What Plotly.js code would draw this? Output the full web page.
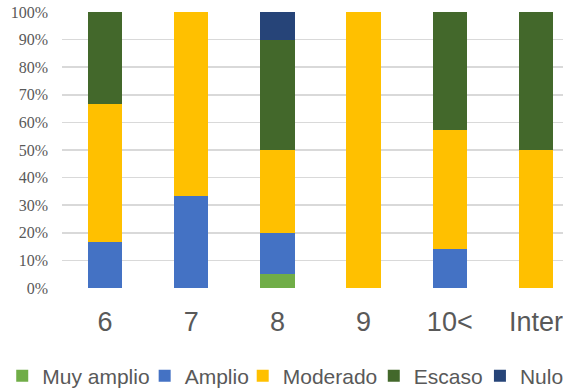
<!DOCTYPE html>
<html>
<head>
<meta charset="utf-8">
<script src="https://cdn.plot.ly/plotly-3.0.1.min.js"></script>
<style>html,body{margin:0;padding:0;background:#fff}#chart{width:563px;height:390px}</style>
</head>
<body>
<div id="chart"></div>
<script>
const categories = ["6", "7", "8", "9", "10<", "Inter"];
const muyAmplio = [0, 0, 5, 0, 0, 0];
const amplio = [16.7, 33.3, 15, 0, 14.3, 0];
const moderado = [50, 66.7, 30, 100, 42.9, 50];
const escaso = [33.3, 0, 40, 0, 42.8, 50];
const nulo = [0, 0, 10, 0, 0, 0];
const yTicks = [0, 10, 20, 30, 40, 50, 60, 70, 80, 90, 100];
const yTickLabels = yTicks.map(v => v + "%");
const seriesNames = ["Muy amplio", "Amplio", "Moderado", "Escaso", "Nulo"];

const seriesValues = [muyAmplio, amplio, moderado, escaso, nulo];
const seriesColors = ["#70AD47", "#4472C4", "#FFC000", "#43682B", "#264478"];
const legendX = [-0.1193, 0.165, 0.3607, 0.6223, 0.8342];
const legendIds = ["legend", "legend2", "legend3", "legend4", "legend5"];

const data = seriesNames.map((name, i) => ({
  type: "bar",
  name: name,
  x: categories,
  y: seriesValues[i],
  marker: {color: seriesColors[i], line: {width: 0}},
  width: 0.4,
  legend: legendIds[i]
}));

const layout = {
  width: 563, height: 390,
  margin: {l: 62.4, r: 0, t: 12, b: 102, autoexpand: false},
  barmode: "stack",
  paper_bgcolor: "#fff", plot_bgcolor: "#fff",
  showlegend: true,
  xaxis: {
    type: "category",
    range: [-0.5, 5.314],
    showgrid: false, zeroline: false, showline: false, ticks: "",
    tickfont: {family: "Liberation Sans, Arial, sans-serif", size: 27, color: "#595959"},
    ticklabelstandoff: 15
  },
  yaxis: {
    range: [0, 100],
    tickvals: yTicks, ticktext: yTickLabels,
    showgrid: true, gridcolor: "#D9D9D9", gridwidth: 1.5,
    zeroline: false, showline: false, ticks: "",
    tickfont: {family: "Liberation Serif, Times New Roman, serif", size: 16, color: "#595959"},
    ticklabelstandoff: 13
  }
};
legendIds.forEach((id, i) => {
  layout[id] = {
    orientation: "h", x: legendX[i], xanchor: "left", y: -0.3188, yanchor: "middle",
    font: {family: "Liberation Sans, Arial, sans-serif", size: 21, color: "#595959"},
    bgcolor: "rgba(0,0,0,0)", borderwidth: 0
  };
});

Plotly.newPlot("chart", data, layout, {staticPlot: true, displayModeBar: false});
</script>
</body>
</html>
